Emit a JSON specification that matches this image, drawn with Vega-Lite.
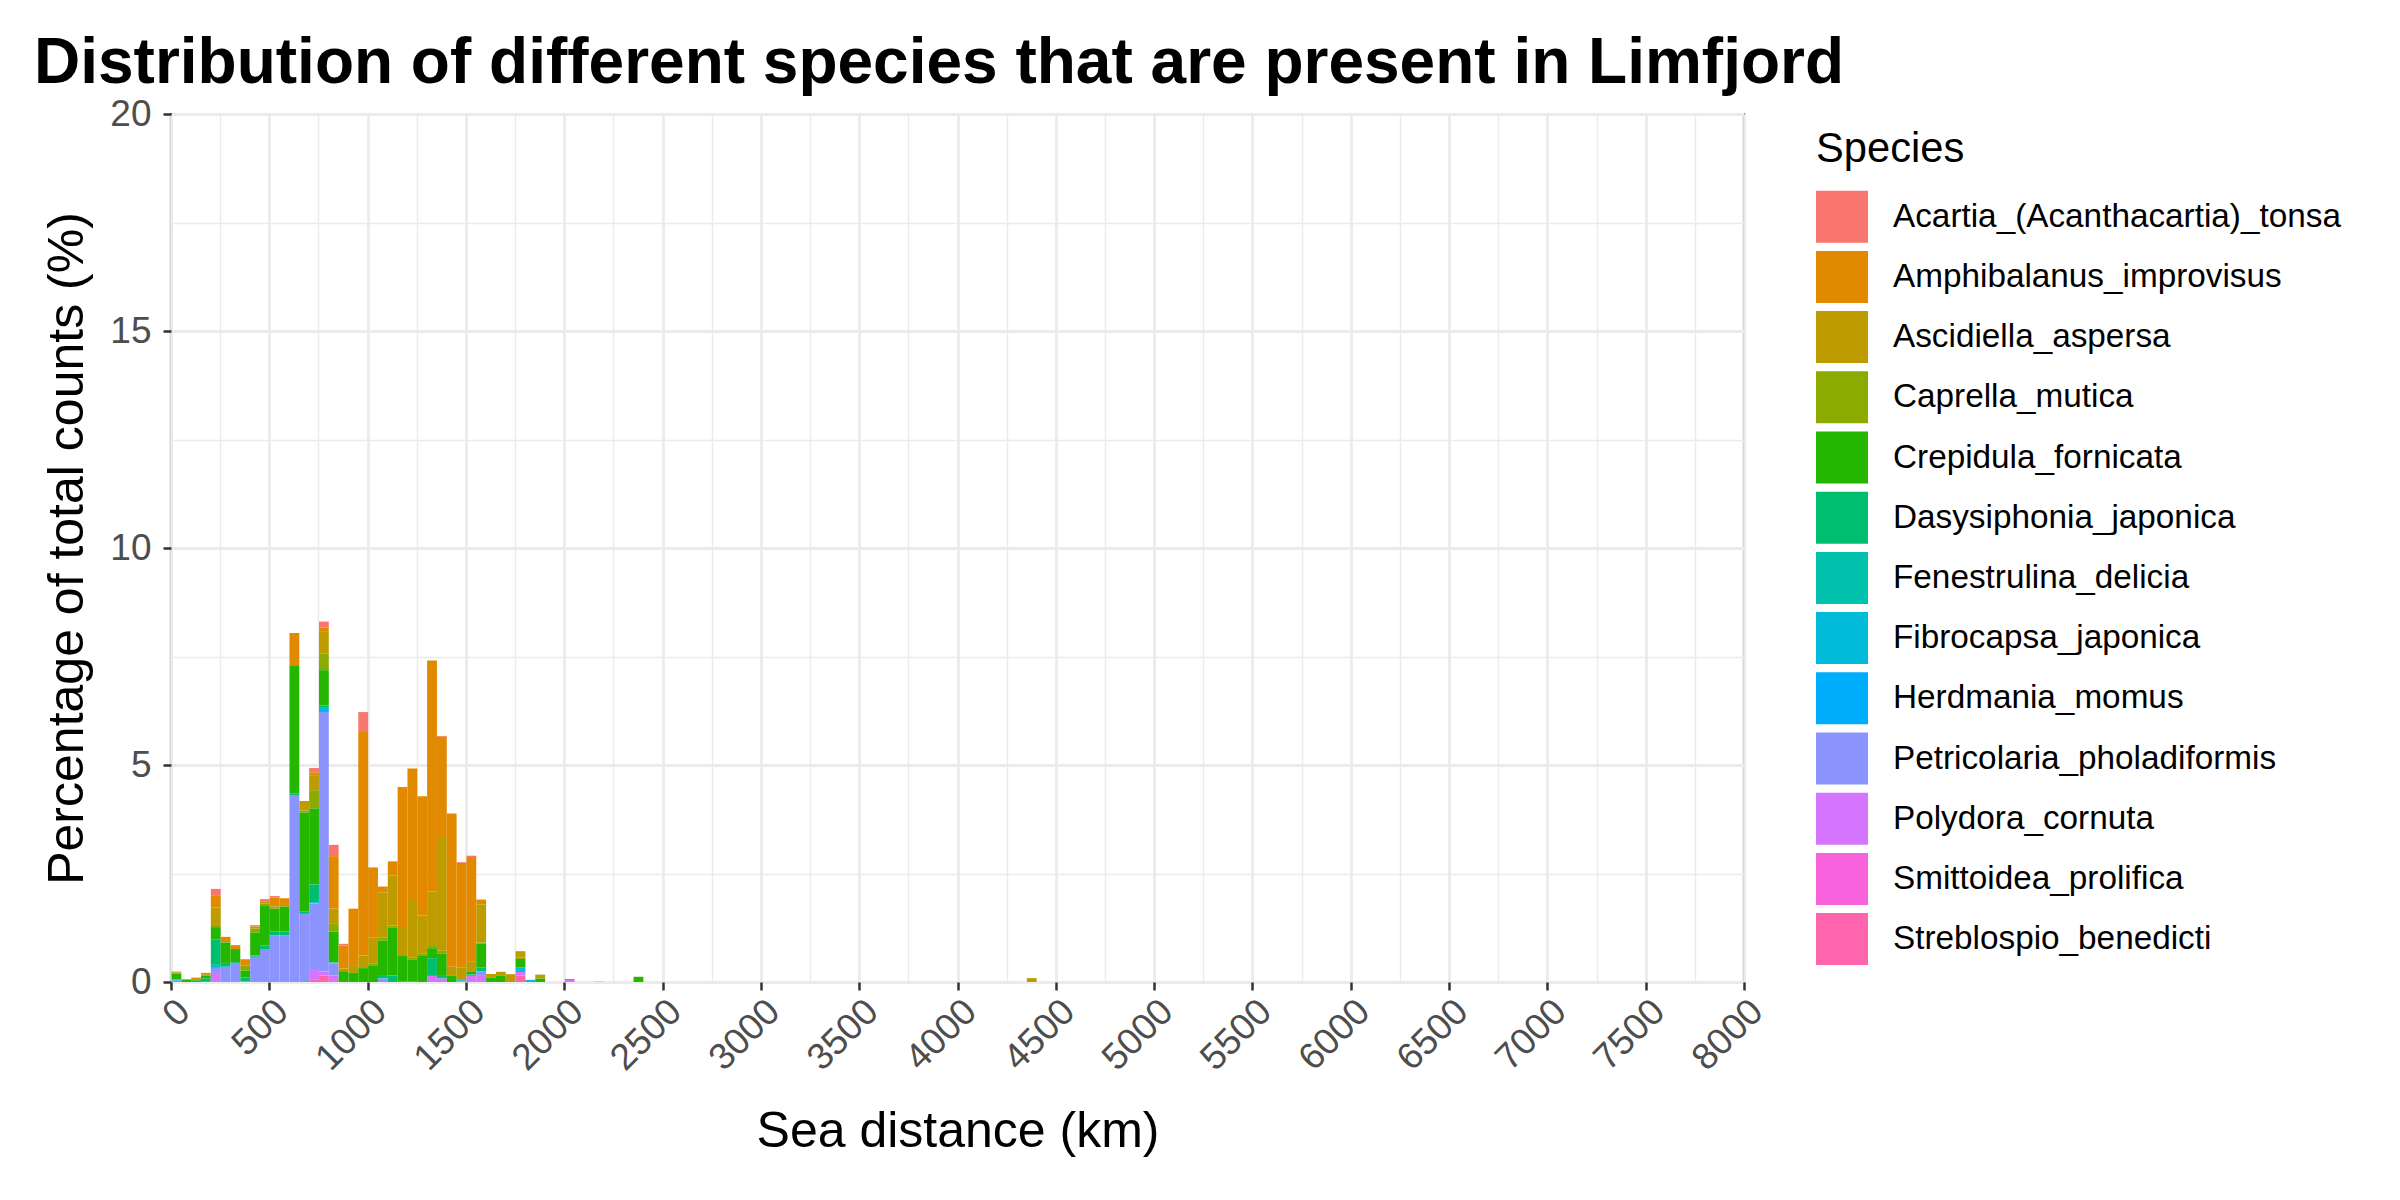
{
  "$schema": "https://vega.github.io/schema/vega-lite/v6.json",
  "width": 1573,
  "height": 868,
  "autosize": {"type": "none"},
  "padding": {"left": 171, "top": 114, "right": 656, "bottom": 218},
  "background": "white",
  "config": {
    "font": "Liberation Sans",
    "view": {"stroke": "#333333", "strokeWidth": 2.2}
  },
  "title": {
    "text": "Distribution of different species that are present in Limfjord",
    "anchor": "start",
    "frame": "group",
    "dx": -137,
    "dy": 68,
    "fontSize": 64,
    "fontWeight": "bold",
    "color": "black",
    "baseline": "alphabetic",
    "offset": 16
  },
  "data": {
    "values": [
      {"km": 0, "end": 50, "species": "Amphibalanus_improvisus", "pct": 0.02},
      {"km": 0, "end": 50, "species": "Ascidiella_aspersa", "pct": 0.03},
      {"km": 0, "end": 50, "species": "Crepidula_fornicata", "pct": 0.13},
      {"km": 0, "end": 50, "species": "Fibrocapsa_japonica", "pct": 0.03},
      {"km": 0, "end": 50, "species": "Petricolaria_pholadiformis", "pct": 0.03},
      {"km": 50, "end": 100, "species": "Crepidula_fornicata", "pct": 0.06},
      {"km": 100, "end": 150, "species": "Amphibalanus_improvisus", "pct": 0.04},
      {"km": 100, "end": 150, "species": "Crepidula_fornicata", "pct": 0.03},
      {"km": 100, "end": 150, "species": "Dasysiphonia_japonica", "pct": 0.03},
      {"km": 150, "end": 200, "species": "Amphibalanus_improvisus", "pct": 0.03},
      {"km": 150, "end": 200, "species": "Ascidiella_aspersa", "pct": 0.03},
      {"km": 150, "end": 200, "species": "Crepidula_fornicata", "pct": 0.07},
      {"km": 150, "end": 200, "species": "Dasysiphonia_japonica", "pct": 0.06},
      {"km": 150, "end": 200, "species": "Fibrocapsa_japonica", "pct": 0.02},
      {"km": 200, "end": 250, "species": "Acartia_(Acanthacartia)_tonsa", "pct": 0.16},
      {"km": 200, "end": 250, "species": "Amphibalanus_improvisus", "pct": 0.27},
      {"km": 200, "end": 250, "species": "Ascidiella_aspersa", "pct": 0.40},
      {"km": 200, "end": 250, "species": "Caprella_mutica", "pct": 0.05},
      {"km": 200, "end": 250, "species": "Crepidula_fornicata", "pct": 0.29},
      {"km": 200, "end": 250, "species": "Dasysiphonia_japonica", "pct": 0.58},
      {"km": 200, "end": 250, "species": "Fibrocapsa_japonica", "pct": 0.07},
      {"km": 200, "end": 250, "species": "Petricolaria_pholadiformis", "pct": 0.115},
      {"km": 200, "end": 250, "species": "Polydora_cornuta", "pct": 0.21},
      {"km": 250, "end": 300, "species": "Amphibalanus_improvisus", "pct": 0.13},
      {"km": 250, "end": 300, "species": "Crepidula_fornicata", "pct": 0.47},
      {"km": 250, "end": 300, "species": "Dasysiphonia_japonica", "pct": 0.09},
      {"km": 250, "end": 300, "species": "Petricolaria_pholadiformis", "pct": 0.35},
      {"km": 300, "end": 350, "species": "Amphibalanus_improvisus", "pct": 0.09},
      {"km": 300, "end": 350, "species": "Crepidula_fornicata", "pct": 0.30},
      {"km": 300, "end": 350, "species": "Dasysiphonia_japonica", "pct": 0.02},
      {"km": 300, "end": 350, "species": "Petricolaria_pholadiformis", "pct": 0.44},
      {"km": 350, "end": 400, "species": "Amphibalanus_improvisus", "pct": 0.15},
      {"km": 350, "end": 400, "species": "Caprella_mutica", "pct": 0.115},
      {"km": 350, "end": 400, "species": "Crepidula_fornicata", "pct": 0.16},
      {"km": 350, "end": 400, "species": "Dasysiphonia_japonica", "pct": 0.08},
      {"km": 350, "end": 400, "species": "Petricolaria_pholadiformis", "pct": 0.02},
      {"km": 400, "end": 450, "species": "Acartia_(Acanthacartia)_tonsa", "pct": 0.03},
      {"km": 400, "end": 450, "species": "Amphibalanus_improvisus", "pct": 0.05},
      {"km": 400, "end": 450, "species": "Caprella_mutica", "pct": 0.09},
      {"km": 400, "end": 450, "species": "Crepidula_fornicata", "pct": 0.53},
      {"km": 400, "end": 450, "species": "Dasysiphonia_japonica", "pct": 0.03},
      {"km": 400, "end": 450, "species": "Petricolaria_pholadiformis", "pct": 0.58},
      {"km": 450, "end": 500, "species": "Acartia_(Acanthacartia)_tonsa", "pct": 0.05},
      {"km": 450, "end": 500, "species": "Ascidiella_aspersa", "pct": 0.05},
      {"km": 450, "end": 500, "species": "Caprella_mutica", "pct": 0.06},
      {"km": 450, "end": 500, "species": "Crepidula_fornicata", "pct": 0.91},
      {"km": 450, "end": 500, "species": "Dasysiphonia_japonica", "pct": 0.08},
      {"km": 450, "end": 500, "species": "Petricolaria_pholadiformis", "pct": 0.76},
      {"km": 500, "end": 550, "species": "Acartia_(Acanthacartia)_tonsa", "pct": 0.03},
      {"km": 500, "end": 550, "species": "Amphibalanus_improvisus", "pct": 0.21},
      {"km": 500, "end": 550, "species": "Ascidiella_aspersa", "pct": 0.05},
      {"km": 500, "end": 550, "species": "Crepidula_fornicata", "pct": 0.52},
      {"km": 500, "end": 550, "species": "Dasysiphonia_japonica", "pct": 0.09},
      {"km": 500, "end": 550, "species": "Petricolaria_pholadiformis", "pct": 1.08},
      {"km": 550, "end": 600, "species": "Amphibalanus_improvisus", "pct": 0.19},
      {"km": 550, "end": 600, "species": "Crepidula_fornicata", "pct": 0.58},
      {"km": 550, "end": 600, "species": "Dasysiphonia_japonica", "pct": 0.08},
      {"km": 550, "end": 600, "species": "Petricolaria_pholadiformis", "pct": 1.08},
      {"km": 600, "end": 650, "species": "Amphibalanus_improvisus", "pct": 0.76},
      {"km": 600, "end": 650, "species": "Crepidula_fornicata", "pct": 2.93},
      {"km": 600, "end": 650, "species": "Dasysiphonia_japonica", "pct": 0.06},
      {"km": 600, "end": 650, "species": "Petricolaria_pholadiformis", "pct": 4.29},
      {"km": 650, "end": 700, "species": "Ascidiella_aspersa", "pct": 0.22},
      {"km": 650, "end": 700, "species": "Caprella_mutica", "pct": 0.05},
      {"km": 650, "end": 700, "species": "Crepidula_fornicata", "pct": 2.27},
      {"km": 650, "end": 700, "species": "Dasysiphonia_japonica", "pct": 0.06},
      {"km": 650, "end": 700, "species": "Petricolaria_pholadiformis", "pct": 1.57},
      {"km": 700, "end": 750, "species": "Acartia_(Acanthacartia)_tonsa", "pct": 0.10},
      {"km": 700, "end": 750, "species": "Amphibalanus_improvisus", "pct": 0.08},
      {"km": 700, "end": 750, "species": "Ascidiella_aspersa", "pct": 0.33},
      {"km": 700, "end": 750, "species": "Caprella_mutica", "pct": 0.42},
      {"km": 700, "end": 750, "species": "Crepidula_fornicata", "pct": 1.75},
      {"km": 700, "end": 750, "species": "Dasysiphonia_japonica", "pct": 0.41},
      {"km": 700, "end": 750, "species": "Fibrocapsa_japonica", "pct": 0.03},
      {"km": 700, "end": 750, "species": "Petricolaria_pholadiformis", "pct": 1.51},
      {"km": 700, "end": 750, "species": "Polydora_cornuta", "pct": 0.25},
      {"km": 700, "end": 750, "species": "Streblospio_benedicti", "pct": 0.05},
      {"km": 750, "end": 800, "species": "Acartia_(Acanthacartia)_tonsa", "pct": 0.14},
      {"km": 750, "end": 800, "species": "Amphibalanus_improvisus", "pct": 0.08},
      {"km": 750, "end": 800, "species": "Ascidiella_aspersa", "pct": 0.52},
      {"km": 750, "end": 800, "species": "Caprella_mutica", "pct": 0.38},
      {"km": 750, "end": 800, "species": "Crepidula_fornicata", "pct": 0.81},
      {"km": 750, "end": 800, "species": "Dasysiphonia_japonica", "pct": 0.04},
      {"km": 750, "end": 800, "species": "Fibrocapsa_japonica", "pct": 0.115},
      {"km": 750, "end": 800, "species": "Petricolaria_pholadiformis", "pct": 5.98},
      {"km": 750, "end": 800, "species": "Polydora_cornuta", "pct": 0.09},
      {"km": 750, "end": 800, "species": "Streblospio_benedicti", "pct": 0.15},
      {"km": 800, "end": 850, "species": "Acartia_(Acanthacartia)_tonsa", "pct": 0.26},
      {"km": 800, "end": 850, "species": "Amphibalanus_improvisus", "pct": 1.21},
      {"km": 800, "end": 850, "species": "Ascidiella_aspersa", "pct": 0.35},
      {"km": 800, "end": 850, "species": "Caprella_mutica", "pct": 0.18},
      {"km": 800, "end": 850, "species": "Crepidula_fornicata", "pct": 0.71},
      {"km": 800, "end": 850, "species": "Fibrocapsa_japonica", "pct": 0.02},
      {"km": 800, "end": 850, "species": "Petricolaria_pholadiformis", "pct": 0.28},
      {"km": 800, "end": 850, "species": "Polydora_cornuta", "pct": 0.15},
      {"km": 850, "end": 900, "species": "Acartia_(Acanthacartia)_tonsa", "pct": 0.04},
      {"km": 850, "end": 900, "species": "Amphibalanus_improvisus", "pct": 0.53},
      {"km": 850, "end": 900, "species": "Ascidiella_aspersa", "pct": 0.06},
      {"km": 850, "end": 900, "species": "Crepidula_fornicata", "pct": 0.25},
      {"km": 900, "end": 950, "species": "Amphibalanus_improvisus", "pct": 1.30},
      {"km": 900, "end": 950, "species": "Ascidiella_aspersa", "pct": 0.18},
      {"km": 900, "end": 950, "species": "Crepidula_fornicata", "pct": 0.21},
      {"km": 950, "end": 1000, "species": "Acartia_(Acanthacartia)_tonsa", "pct": 0.46},
      {"km": 950, "end": 1000, "species": "Amphibalanus_improvisus", "pct": 5.15},
      {"km": 950, "end": 1000, "species": "Ascidiella_aspersa", "pct": 0.29},
      {"km": 950, "end": 1000, "species": "Crepidula_fornicata", "pct": 0.32},
      {"km": 1000, "end": 1050, "species": "Amphibalanus_improvisus", "pct": 1.61},
      {"km": 1000, "end": 1050, "species": "Ascidiella_aspersa", "pct": 0.61},
      {"km": 1000, "end": 1050, "species": "Caprella_mutica", "pct": 0.05},
      {"km": 1000, "end": 1050, "species": "Crepidula_fornicata", "pct": 0.37},
      {"km": 1050, "end": 1100, "species": "Amphibalanus_improvisus", "pct": 0.14},
      {"km": 1050, "end": 1100, "species": "Ascidiella_aspersa", "pct": 1.04},
      {"km": 1050, "end": 1100, "species": "Caprella_mutica", "pct": 0.07},
      {"km": 1050, "end": 1100, "species": "Crepidula_fornicata", "pct": 0.79},
      {"km": 1050, "end": 1100, "species": "Dasysiphonia_japonica", "pct": 0.08},
      {"km": 1050, "end": 1100, "species": "Petricolaria_pholadiformis", "pct": 0.08},
      {"km": 1100, "end": 1150, "species": "Amphibalanus_improvisus", "pct": 0.33},
      {"km": 1100, "end": 1150, "species": "Ascidiella_aspersa", "pct": 1.15},
      {"km": 1100, "end": 1150, "species": "Caprella_mutica", "pct": 0.04},
      {"km": 1100, "end": 1150, "species": "Crepidula_fornicata", "pct": 1.11},
      {"km": 1100, "end": 1150, "species": "Dasysiphonia_japonica", "pct": 0.15},
      {"km": 1150, "end": 1200, "species": "Amphibalanus_improvisus", "pct": 3.25},
      {"km": 1150, "end": 1200, "species": "Ascidiella_aspersa", "pct": 0.645},
      {"km": 1150, "end": 1200, "species": "Crepidula_fornicata", "pct": 0.58},
      {"km": 1150, "end": 1200, "species": "Herdmania_momus", "pct": 0.02},
      {"km": 1200, "end": 1250, "species": "Amphibalanus_improvisus", "pct": 3.03},
      {"km": 1200, "end": 1250, "species": "Ascidiella_aspersa", "pct": 1.32},
      {"km": 1200, "end": 1250, "species": "Caprella_mutica", "pct": 0.06},
      {"km": 1200, "end": 1250, "species": "Crepidula_fornicata", "pct": 0.49},
      {"km": 1200, "end": 1250, "species": "Herdmania_momus", "pct": 0.02},
      {"km": 1250, "end": 1300, "species": "Amphibalanus_improvisus", "pct": 2.75},
      {"km": 1250, "end": 1300, "species": "Ascidiella_aspersa", "pct": 0.88},
      {"km": 1250, "end": 1300, "species": "Caprella_mutica", "pct": 0.05},
      {"km": 1250, "end": 1300, "species": "Crepidula_fornicata", "pct": 0.60},
      {"km": 1300, "end": 1350, "species": "Amphibalanus_improvisus", "pct": 5.32},
      {"km": 1300, "end": 1350, "species": "Ascidiella_aspersa", "pct": 1.26},
      {"km": 1300, "end": 1350, "species": "Caprella_mutica", "pct": 0.05},
      {"km": 1300, "end": 1350, "species": "Crepidula_fornicata", "pct": 0.23},
      {"km": 1300, "end": 1350, "species": "Dasysiphonia_japonica", "pct": 0.41},
      {"km": 1300, "end": 1350, "species": "Polydora_cornuta", "pct": 0.14},
      {"km": 1350, "end": 1400, "species": "Acartia_(Acanthacartia)_tonsa", "pct": 0.02},
      {"km": 1350, "end": 1400, "species": "Amphibalanus_improvisus", "pct": 2.33},
      {"km": 1350, "end": 1400, "species": "Ascidiella_aspersa", "pct": 2.60},
      {"km": 1350, "end": 1400, "species": "Caprella_mutica", "pct": 0.06},
      {"km": 1350, "end": 1400, "species": "Crepidula_fornicata", "pct": 0.50},
      {"km": 1350, "end": 1400, "species": "Dasysiphonia_japonica", "pct": 0.08},
      {"km": 1350, "end": 1400, "species": "Polydora_cornuta", "pct": 0.08},
      {"km": 1400, "end": 1450, "species": "Amphibalanus_improvisus", "pct": 3.53},
      {"km": 1400, "end": 1450, "species": "Ascidiella_aspersa", "pct": 0.21},
      {"km": 1400, "end": 1450, "species": "Crepidula_fornicata", "pct": 0.14},
      {"km": 1450, "end": 1500, "species": "Acartia_(Acanthacartia)_tonsa", "pct": 0.02},
      {"km": 1450, "end": 1500, "species": "Amphibalanus_improvisus", "pct": 2.40},
      {"km": 1450, "end": 1500, "species": "Ascidiella_aspersa", "pct": 0.28},
      {"km": 1450, "end": 1500, "species": "Crepidula_fornicata", "pct": 0.02},
      {"km": 1450, "end": 1500, "species": "Fibrocapsa_japonica", "pct": 0.02},
      {"km": 1450, "end": 1500, "species": "Petricolaria_pholadiformis", "pct": 0.02},
      {"km": 1500, "end": 1550, "species": "Acartia_(Acanthacartia)_tonsa", "pct": 0.03},
      {"km": 1500, "end": 1550, "species": "Amphibalanus_improvisus", "pct": 2.40},
      {"km": 1500, "end": 1550, "species": "Ascidiella_aspersa", "pct": 0.25},
      {"km": 1500, "end": 1550, "species": "Crepidula_fornicata", "pct": 0.06},
      {"km": 1500, "end": 1550, "species": "Fibrocapsa_japonica", "pct": 0.03},
      {"km": 1500, "end": 1550, "species": "Polydora_cornuta", "pct": 0.14},
      {"km": 1550, "end": 1600, "species": "Amphibalanus_improvisus", "pct": 0.11},
      {"km": 1550, "end": 1600, "species": "Ascidiella_aspersa", "pct": 0.88},
      {"km": 1550, "end": 1600, "species": "Caprella_mutica", "pct": 0.03},
      {"km": 1550, "end": 1600, "species": "Crepidula_fornicata", "pct": 0.55},
      {"km": 1550, "end": 1600, "species": "Dasysiphonia_japonica", "pct": 0.08},
      {"km": 1550, "end": 1600, "species": "Petricolaria_pholadiformis", "pct": 0.09},
      {"km": 1550, "end": 1600, "species": "Polydora_cornuta", "pct": 0.16},
      {"km": 1600, "end": 1650, "species": "Ascidiella_aspersa", "pct": 0.085},
      {"km": 1600, "end": 1650, "species": "Crepidula_fornicata", "pct": 0.10},
      {"km": 1650, "end": 1700, "species": "Ascidiella_aspersa", "pct": 0.085},
      {"km": 1650, "end": 1700, "species": "Crepidula_fornicata", "pct": 0.15},
      {"km": 1700, "end": 1750, "species": "Ascidiella_aspersa", "pct": 0.18},
      {"km": 1750, "end": 1800, "species": "Ascidiella_aspersa", "pct": 0.15},
      {"km": 1750, "end": 1800, "species": "Caprella_mutica", "pct": 0.03},
      {"km": 1750, "end": 1800, "species": "Crepidula_fornicata", "pct": 0.19},
      {"km": 1750, "end": 1800, "species": "Fibrocapsa_japonica", "pct": 0.11},
      {"km": 1750, "end": 1800, "species": "Polydora_cornuta", "pct": 0.08},
      {"km": 1750, "end": 1800, "species": "Streblospio_benedicti", "pct": 0.15},
      {"km": 1800, "end": 1850, "species": "Fibrocapsa_japonica", "pct": 0.05},
      {"km": 1850, "end": 1900, "species": "Ascidiella_aspersa", "pct": 0.09},
      {"km": 1850, "end": 1900, "species": "Crepidula_fornicata", "pct": 0.08},
      {"km": 2000, "end": 2050, "species": "Crepidula_fornicata", "pct": 0.02},
      {"km": 2000, "end": 2050, "species": "Polydora_cornuta", "pct": 0.05},
      {"km": 2150, "end": 2200, "species": "Caprella_mutica", "pct": 0.006},
      {"km": 2350, "end": 2400, "species": "Crepidula_fornicata", "pct": 0.12},
      {"km": 4350, "end": 4400, "species": "Ascidiella_aspersa", "pct": 0.09}
    ]
  },
  "mark": {"type": "bar", "binSpacing": 0, "strokeWidth": 0},
  "encoding": {
    "x": {
      "field": "km",
      "type": "quantitative",
      "bin": {"binned": true, "step": 50},
      "scale": {"domain": [0, 8000], "nice": false, "zero": false},
      "axis": {
        "title": "Sea distance (km)",
        "values": [0, 250, 500, 750, 1000, 1250, 1500, 1750, 2000, 2250, 2500, 2750, 3000, 3250, 3500, 3750, 4000, 4250, 4500, 4750, 5000, 5250, 5500, 5750, 6000, 6250, 6500, 6750, 7000, 7250, 7500, 7750, 8000],
        "format": "d",
        "labelExpr": "datum.value % 500 === 0 ? datum.label : ''",
        "labelAngle": -45,
        "labelAlign": "right",
        "labelBaseline": "top",
        "labelFontSize": 37,
        "labelColor": "#4D4D4D",
        "labelPadding": 3,
        "labelOverlap": false,
        "labelFlush": false,
        "labelBound": false,
        "domain": false,
        "ticks": true,
        "tickColor": "#333333",
        "tickWidth": 2.5,
        "tickSize": 8,
        "tickOpacity": {"condition": {"test": "datum.value % 500 === 0", "value": 1}, "value": 0},
        "grid": true,
        "gridColor": "#EBEBEB",
        "gridWidth": {"condition": {"test": "datum.value % 500 === 0", "value": 2.8}, "value": 1.4},
        "titleFontSize": 50,
        "titleFontWeight": "normal",
        "titleColor": "black",
        "titleBaseline": "alphabetic",
        "titleX": 786.5,
        "titleY": 164
      }
    },
    "x2": {"field": "end"},
    "y": {
      "field": "pct",
      "type": "quantitative",
      "stack": "zero",
      "scale": {"domain": [0, 20], "nice": false, "zero": true},
      "axis": {
        "title": "Percentage of total counts (%)",
        "values": [0, 2.5, 5, 7.5, 10, 12.5, 15, 17.5, 20],
        "format": "d",
        "labelExpr": "datum.value % 5 === 0 ? datum.label : ''",
        "labelFontSize": 37,
        "labelColor": "#4D4D4D",
        "labelPadding": 12,
        "labelOverlap": false,
        "labelFlush": false,
        "domain": false,
        "tickColor": "#333333",
        "tickWidth": 2.5,
        "tickSize": 8,
        "tickOpacity": {"condition": {"test": "datum.value % 5 === 0", "value": 1}, "value": 0},
        "grid": true,
        "gridColor": "#EBEBEB",
        "gridWidth": {"condition": {"test": "datum.value % 5 === 0", "value": 2.8}, "value": 1.4},
        "titleFontSize": 50,
        "titleFontWeight": "normal",
        "titleColor": "black",
        "titleBaseline": "alphabetic",
        "titleX": -89
      }
    },
    "color": {
      "field": "species",
      "type": "nominal",
      "scale": {
        "domain": ["Acartia_(Acanthacartia)_tonsa", "Amphibalanus_improvisus", "Ascidiella_aspersa", "Caprella_mutica", "Crepidula_fornicata", "Dasysiphonia_japonica", "Fenestrulina_delicia", "Fibrocapsa_japonica", "Herdmania_momus", "Petricolaria_pholadiformis", "Polydora_cornuta", "Smittoidea_prolifica", "Streblospio_benedicti"],
        "range": ["#F8766D", "#E18A00", "#BE9C00", "#8CAB00", "#24B700", "#00BE70", "#00C1AB", "#00BBDA", "#00ACFC", "#8B93FF", "#D575FE", "#F962DD", "#FF65AC"]
      },
      "legend": {
        "title": "Species",
        "orient": "none",
        "legendX": 1645,
        "legendY": 15,
        "padding": 0,
        "direction": "vertical",
        "columns": 1,
        "titleFontSize": 41.7,
        "titleFontWeight": "normal",
        "titleColor": "black",
        "titlePadding": 20,
        "labelFontSize": 33.3,
        "labelColor": "black",
        "labelOffset": 25,
        "labelLimit": 0,
        "symbolType": "square",
        "symbolSize": 2704,
        "symbolStrokeWidth": 0,
        "symbolOpacity": 1,
        "rowPadding": 8.2
      }
    },
    "order": {"field": "species", "sort": "descending"}
  }
}
